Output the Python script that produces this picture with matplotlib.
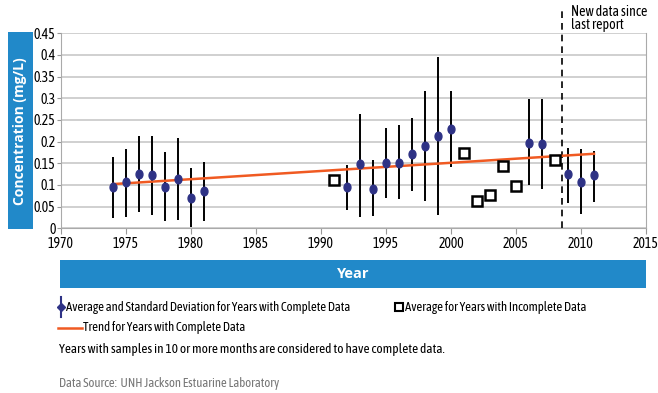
"""Annual mean concentration with standard deviation, complete vs incomplete years."""

import matplotlib.pyplot as plt
from matplotlib.lines import Line2D
from matplotlib.patches import Rectangle
from matplotlib.path import Path
from matplotlib.transforms import Affine2D

plt.rcParams["font.family"] = ["Asap Condensed", "DejaVu Sans"]

# years with complete data: mean and +/- one standard deviation bounds
complete_years = [1974, 1975, 1976, 1977, 1978, 1979, 1980, 1981,
                  1992, 1993, 1994, 1995, 1996, 1997, 1998, 1999, 2000,
                  2006, 2007, 2009, 2010, 2011]
complete_mean = [0.096, 0.108, 0.125, 0.122, 0.096, 0.114, 0.071, 0.085,
                 0.096, 0.148, 0.091, 0.150, 0.150, 0.172, 0.190, 0.212, 0.230,
                 0.198, 0.194, 0.125, 0.108, 0.122]
complete_hi = [0.165, 0.183, 0.213, 0.213, 0.175, 0.209, 0.139, 0.154,
               0.146, 0.263, 0.158, 0.231, 0.238, 0.255, 0.318, 0.395, 0.318,
               0.299, 0.299, 0.186, 0.182, 0.178]
complete_lo = [0.023, 0.025, 0.037, 0.031, 0.017, 0.019, 0.004, 0.018,
               0.042, 0.027, 0.029, 0.069, 0.067, 0.086, 0.064, 0.030, 0.141,
               0.100, 0.090, 0.059, 0.032, 0.060]

# years with incomplete data: mean only
incomplete_years = [1991, 2001, 2002, 2003, 2004, 2005, 2008]
incomplete_mean = [0.111, 0.173, 0.063, 0.077, 0.143, 0.098, 0.157]

# linear trend through the complete years
trend_years = [1974, 2011]
trend_values = [0.102, 0.172]

report_cutoff = 2008.5

BLUE = "#2189c9"
NAVY = "#2e3285"
ORANGE = "#f05a22"
GRID = "#c8c8c8"
BOLD_FONT = ["Open Sans", "DejaVu Sans"]

# slightly tall ellipse for the mean markers
ellipse = Affine2D().scale(0.8, 1.0).transform_path(Path.unit_circle())

fig = plt.figure(figsize=(6.58, 3.93), dpi=100)
ax = fig.add_axes([61 / 658, 1 - 228.3 / 393, 585 / 658, 195 / 393])

yerr = [[m - lo for m, lo in zip(complete_mean, complete_lo)],
        [hi - m for m, hi in zip(complete_mean, complete_hi)]]
ax.errorbar(complete_years, complete_mean, yerr=yerr, fmt="none",
            ecolor="black", elinewidth=1.4, capsize=0, zorder=3)
ax.plot(trend_years, trend_values, color=ORANGE, lw=1.8, zorder=4)
ax.plot(complete_years, complete_mean, ls="none", marker=ellipse, ms=6.2,
        mfc=NAVY, mec=NAVY, zorder=5)
ax.plot(incomplete_years, incomplete_mean, ls="none", marker="s", ms=6.8,
        mfc="white", mec="black", mew=1.8, zorder=5)

ax.axvline(report_cutoff, ymin=0, ymax=1.12, color="black", lw=1.2,
           ls=(0, (4, 3)), clip_on=False, zorder=2)
ax.text(2009.2, 0.453, "New data since\nlast report", fontsize=10,
        ha="left", va="bottom", linespacing=0.95)

ax.set_xlim(1970, 2015)
ax.set_ylim(0, 0.45)
ax.set_xticks(range(1970, 2016, 5))
ax.set_yticks([i * 0.05 for i in range(10)])
ax.set_yticklabels(["0", "0.05", "0.1", "0.15", "0.2", "0.25", "0.3",
                    "0.35", "0.4", "0.45"])
ax.tick_params(axis="both", labelsize=10, color="#999999", length=4, pad=1)
ax.tick_params(axis="x", pad=2)
ax.tick_params(axis="y", length=3)
ax.grid(axis="y", color=GRID, lw=1.2)
ax.set_axisbelow(True)
for side in ("left", "bottom", "right"):
    ax.spines[side].set_color("#aaaaaa")
ax.spines["top"].set_visible(False)

# blue label panels
fig.add_artist(Rectangle((8 / 658, 1 - 229 / 393), 25 / 658, 197 / 393,
                         transform=fig.transFigure, color=BLUE, lw=0))
fig.text(20.5 / 658, 1 - 131 / 393, "Concentration (mg/L)", rotation=90,
         ha="center", va="center", color="white", fontsize=10,
         fontweight="bold", family=BOLD_FONT)
fig.add_artist(Rectangle((60 / 658, 1 - 288 / 393), 586 / 658, 28 / 393,
                         transform=fig.transFigure, color=BLUE, lw=0))
fig.text(353 / 658, 1 - 274 / 393, "Year", ha="center", va="center",
         color="white", fontsize=10.5, fontweight="bold", family=BOLD_FONT)


# legend, drawn in figure coordinates
def fx(px):
    return px / 658


def fy(py):
    return 1 - py / 393


fig.add_artist(Line2D([fx(61), fx(61)], [fy(297), fy(317)], color=NAVY, lw=1.5))
fig.add_artist(Line2D([fx(61)], [fy(307)], marker="D", ms=4, color=NAVY))
fig.text(fx(66), fy(307), "Average and Standard Deviation for Years with Complete Data",
         fontsize=9.2, va="center")
fig.add_artist(Line2D([fx(399)], [fy(307)], marker="s", ms=5.5, mfc="white",
                      mec="black", mew=1.5))
fig.text(fx(405), fy(307), "Average for Years with Incomplete Data",
         fontsize=9.2, va="center")
fig.add_artist(Line2D([fx(58), fx(82)], [fy(328), fy(328)], color=ORANGE, lw=1.8))
fig.text(fx(83), fy(328), "Trend for Years with Complete Data", fontsize=9.2,
         va="center")
fig.text(fx(59), fy(349), "Years with samples in 10 or more months are considered "
         "to have complete data.", fontsize=9.5, va="center")
fig.text(fx(59), fy(383), "Data Source:  UNH Jackson Estuarine Laboratory",
         fontsize=9.2, va="center", color="#777777")

fig.savefig("out.png")
